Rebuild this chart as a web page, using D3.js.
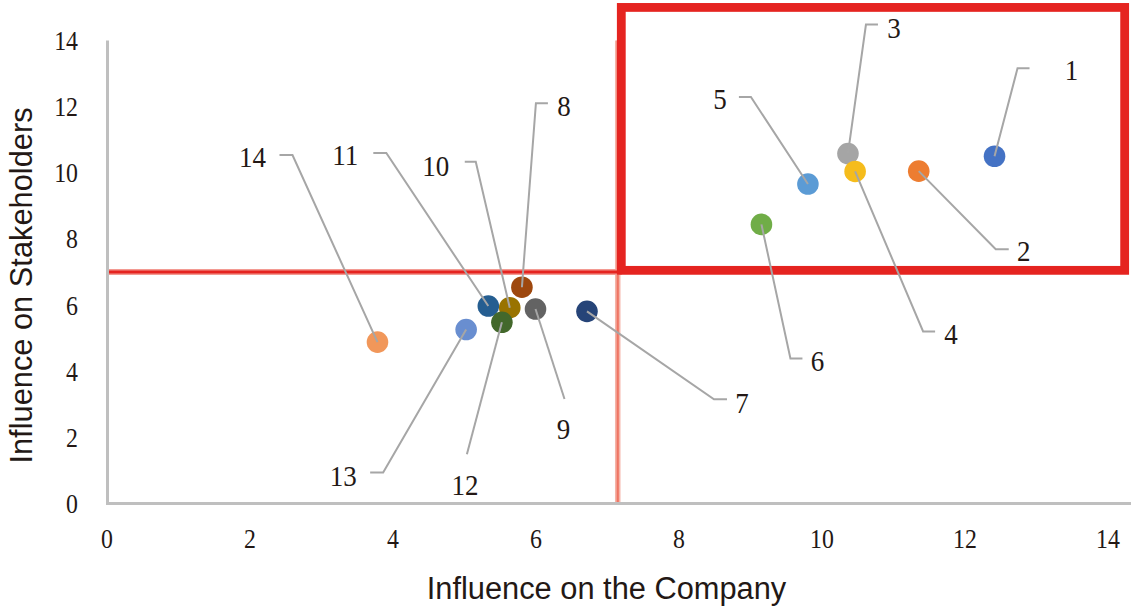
<!DOCTYPE html>
<html>
<head>
<meta charset="utf-8">
<script src="https://cdn.jsdelivr.net/npm/d3@7"></script>
<style>
  html, body { margin: 0; padding: 0; background: #ffffff; }
  svg { display: block; }
</style>
</head>
<body>
<svg id="chart" width="1131" height="607"></svg>
<script>
// Materiality issues: influence on the company vs. influence on stakeholders
const issueIds = ["1", "2", "3", "4", "5", "6", "7", "8", "9", "10", "11", "12", "13", "14"];
const companyInfluence     = [12.42, 11.36, 10.37, 10.47, 9.81, 9.16, 6.72, 5.81, 6.00, 5.64, 5.34, 5.53, 5.03, 3.79];
const stakeholderInfluence = [10.50, 10.05, 10.58, 10.04, 9.66, 8.44, 5.81, 6.54, 5.88, 5.92, 5.97, 5.48, 5.26, 4.88];
const axisTicks = [0, 2, 4, 6, 8, 10, 12, 14];
const companyThreshold = 7.15;
const stakeholderThreshold = 7;
const highlightX = [7.2, 14.24];
const highlightY = [7.05, 15];

// Office-style palette, one colour per issue
const issueColors = ["#4472c4", "#ed7d31", "#a5a5a5", "#f5bc1c", "#5b9bd5", "#70ad47", "#264478",
                     "#9e480e", "#636363", "#997300", "#255e91", "#43682b", "#698ed0", "#f1975a"];

// Callout layout: elbow, end of the horizontal tick, and label centre, as pixel offsets from the dot
const callouts = [
  { elbow: [23, -88],   end: [35, -88],   label: [77, -86] },
  { elbow: [77, 78],    end: [90, 78],    label: [105, 80] },
  { elbow: [18, -129],  end: [30, -129],  label: [46, -126] },
  { elbow: [68, 160],   end: [80, 160],   label: [96, 162] },
  { elbow: [-57, -87],  end: [-69, -87],  label: [-88, -85] },
  { elbow: [29, 134],   end: [41, 134],   label: [56, 136] },
  { elbow: [127, 88],   end: [140, 88],   label: [155, 91] },
  { elbow: [14, -184],  end: [26, -184],  label: [42, -181] },
  { elbow: [29, 90],    end: [29, 90],    label: [28, 120] },
  { elbow: [-34, -146], end: [-45, -146], label: [-74, -142] },
  { elbow: [-102, -153],end: [-115, -153],label: [-143, -151] },
  { elbow: [-35, 132],  end: [-35, 132],  label: [-37, 163] },
  { elbow: [-83, 143],  end: [-96, 143],  label: [-123, 146] },
  { elbow: [-85, -187], end: [-98, -187], label: [-125, -185] }
];

const W = 1131, H = 607;
const textColor = "#231815";
const serif = "'Liberation Serif', 'Times New Roman', serif";
const sans = "'Liberation Sans', Arial, sans-serif";

const svg = d3.select("#chart");
svg.append("rect").attr("width", W).attr("height", H).attr("fill", "#ffffff");

const x = d3.scaleLinear().domain([0, 14]).range([106.5, 1107.5]);
const y = d3.scaleLinear().domain([0, 14]).range([503.5, 40.5]);

const points = issueIds.map((id, i) => ({
  id, cx: companyInfluence[i], cy: stakeholderInfluence[i], color: issueColors[i], callout: callouts[i]
}));

// Axis lines
svg.append("line")
  .attr("x1", x(0) + 1).attr("x2", x(0) + 1)
  .attr("y1", y(14)).attr("y2", y(0))
  .attr("stroke", "#bfbfbf").attr("stroke-width", 3);
svg.append("line")
  .attr("x1", x(0) - 0.5).attr("x2", W)
  .attr("y1", y(0)).attr("y2", y(0))
  .attr("stroke", "#bfbfbf").attr("stroke-width", 3.2);

// Tick labels (slightly condensed serif digits)
const gY = svg.append("g").attr("transform", "translate(78,0)")
  .call(d3.axisLeft(y).tickValues(axisTicks).tickSize(0).tickPadding(0));
gY.select(".domain").remove();
gY.selectAll("text")
  .attr("x", 0).attr("dy", "0.34em")
  .attr("transform", "scale(0.9,1)")
  .attr("fill", textColor)
  .style("font-family", serif).style("font-size", "26.5px");

const gX = svg.append("g").attr("transform", "translate(0,539)")
  .call(d3.axisBottom(x).tickValues(axisTicks).tickSize(0).tickPadding(0));
gX.select(".domain").remove();
gX.selectAll("text")
  .attr("y", 0).attr("dy", "0.34em")
  .attr("transform", "scale(0.9,1)")
  .attr("fill", textColor)
  .style("font-family", serif).style("font-size", "26.5px");

// Axis titles
svg.append("text")
  .attr("x", (x(0) + x(14)) / 2 - 0.5).attr("y", 599)
  .attr("text-anchor", "middle")
  .attr("fill", textColor)
  .style("font-family", sans).style("font-size", "30.8px")
  .text("Influence on the Company");
svg.append("text")
  .attr("transform", "translate(32,285.5) rotate(-90)")
  .attr("text-anchor", "middle")
  .attr("fill", textColor)
  .style("font-family", sans).style("font-size", "30.8px")
  .text("Influence on Stakeholders");

// Quadrant dividers
const vx = x(companyThreshold), hy = y(stakeholderThreshold);
svg.append("line")
  .attr("x1", vx).attr("x2", vx).attr("y1", y(14)).attr("y2", y(0) - 1.5)
  .attr("stroke", "#f5b4a8").attr("stroke-width", 5.5);
svg.append("line")
  .attr("x1", vx).attr("x2", vx).attr("y1", y(14)).attr("y2", y(0) - 1.5)
  .attr("stroke", "#ef7563").attr("stroke-width", 2.2);
svg.append("line")
  .attr("x1", x(0) + 2.5).attr("x2", vx + 4).attr("y1", hy).attr("y2", hy)
  .attr("stroke", "#f39a92").attr("stroke-width", 6);
svg.append("line")
  .attr("x1", x(0) + 2.5).attr("x2", vx + 4).attr("y1", hy).attr("y2", hy)
  .attr("stroke", "#e52420").attr("stroke-width", 3.2);

// Highlighted priority quadrant
svg.append("rect")
  .attr("x", x(highlightX[0])).attr("y", y(highlightY[1]))
  .attr("width", x(highlightX[1]) - x(highlightX[0]))
  .attr("height", y(highlightY[0]) - y(highlightY[1]))
  .attr("fill", "none")
  .attr("stroke", "#e52420").attr("stroke-width", 8.8);

// Issue dots
svg.append("g").selectAll("circle").data(points).join("circle")
  .attr("cx", d => x(d.cx)).attr("cy", d => y(d.cy))
  .attr("r", 10.8)
  .attr("fill", d => d.color);

// Leader lines from each dot to its label
svg.append("g").selectAll("path").data(points).join("path")
  .attr("d", d => {
    const px = x(d.cx), py = y(d.cy), c = d.callout;
    return d3.line()([[px, py], [px + c.elbow[0], py + c.elbow[1]], [px + c.end[0], py + c.end[1]]]);
  })
  .attr("fill", "none")
  .attr("stroke", "#a6a6a6").attr("stroke-width", 2)
  .attr("stroke-linejoin", "miter");

// Issue number labels
svg.append("g").selectAll("text").data(points).join("text")
  .attr("transform", d => `translate(${x(d.cx) + d.callout.label[0]},${y(d.cy) + d.callout.label[1]}) scale(0.9,1)`)
  .attr("text-anchor", "middle")
  .attr("dy", "0.34em")
  .attr("fill", textColor)
  .style("font-family", serif).style("font-size", "30px")
  .text(d => d.id);
</script>
</body>
</html>
